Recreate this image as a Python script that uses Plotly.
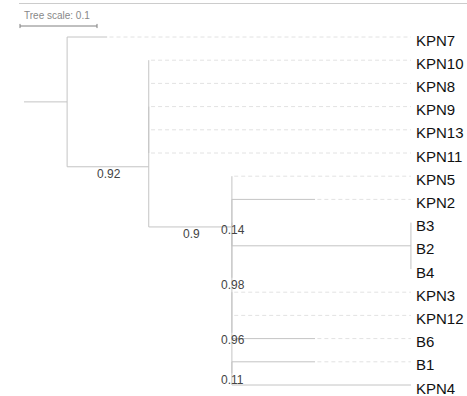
import plotly.graph_objects as go

# ---- data ----
leaf_names = ["KPN7", "KPN10", "KPN8", "KPN9", "KPN13", "KPN11", "KPN5", "KPN2",
              "B3", "B2", "B4", "KPN3", "KPN12", "B6", "B1", "KPN4"]
node_ids = ["root", "N1", "KPN7", "N2", "A", "KPN10", "KPN8", "KPN9", "KPN13", "KPN11",
            "N3", "KPN5", "N98", "N14", "KPN2", "BC", "B3", "B2", "B4",
            "N96", "KPN3", "KPN12", "B6", "N11", "B1", "KPN4"]
parent_ids = [None, "root", "N1", "N1", "N2", "A", "A", "A", "A", "A",
              "N2", "N3", "N3", "N98", "N14", "N14", "BC", "BC", "BC",
              "N98", "N96", "N96", "N96", "N96", "N11", "N11"]
branch_lengths = [0.0, 0.056, 0.052, 0.106, 0.0, 0.0, 0.0, 0.0, 0.0, 0.0,
                  0.108, 0.0, 0.0, 0.0, 0.108, 0.2325, 0.0, 0.0, 0.0,
                  0.0, 0.0, 0.0, 0.108, 0.0, 0.108, 0.2325]
support_nodes = ["N2", "N3", "N14", "N98", "N96", "N11"]
support_values = ["0.92", "0.9", "0.14", "0.98", "0.96", "0.11"]
scale_length = 0.1
scale_label = "Tree scale: 0.1"

# ---- tree layout ----
children = {n: [] for n in node_ids}
parent = dict(zip(node_ids, parent_ids))
blen = dict(zip(node_ids, branch_lengths))
for n, p in zip(node_ids, parent_ids):
    if p is not None:
        children[p].append(n)

xpos, ypos = {}, {}
leaf_idx = {name: i for i, name in enumerate(leaf_names)}


def set_x(n, x0):
    xpos[n] = x0 + blen[n]
    for c in children[n]:
        set_x(c, xpos[n])


def set_y(n):
    if not children[n]:
        ypos[n] = leaf_idx[n]
    else:
        for c in children[n]:
            set_y(c)
        kids = children[n]
        ypos[n] = (ypos[kids[0]] + ypos[kids[-1]]) / 2


set_x("root", 0.0)
set_y("root")
xmax = max(xpos[l] for l in leaf_names)

solid_x, solid_y, dash_x, dash_y = [], [], [], []
for n in node_ids:
    p = parent[n]
    if p is not None and xpos[n] > xpos[p]:
        solid_x += [xpos[p], xpos[n], None]
        solid_y += [ypos[n], ypos[n], None]
    if children[n] and n != "root":
        kids = children[n]
        solid_x += [xpos[n], xpos[n], None]
        solid_y += [ypos[kids[0]], ypos[kids[-1]], None]
for l in leaf_names:
    if xpos[l] < xmax - 1e-9:
        dash_x += [xpos[l] + 0.003, xmax, None]
        dash_y += [ypos[l], ypos[l], None]

W, H = 467, 396
px_per_unit = 770.0
x_origin_px = 24.0
y_top_px, row_px = 37.0, 23.2

fig = go.Figure()
fig.add_trace(go.Scatter(x=dash_x, y=dash_y, mode="lines",
                         line=dict(color="#e2e2e2", width=1, dash="4px,3px"),
                         hoverinfo="skip", showlegend=False))
fig.add_trace(go.Scatter(x=solid_x, y=solid_y, mode="lines",
                         line=dict(color="#c4c4c4", width=1),
                         hoverinfo="skip", showlegend=False))

annotations = []
for l in leaf_names:
    annotations.append(dict(x=xmax, y=ypos[l], text=l, showarrow=False,
                            xanchor="left", yanchor="middle", xshift=3, yshift=-3,
                            font=dict(family="Liberation Sans, Arial", size=15, color="#111111")))
for n, s in zip(support_nodes, support_values):
    xm = (xpos[parent[n]] + xpos[n]) / 2
    annotations.append(dict(x=xm, y=ypos[n], text=s, showarrow=False,
                            xanchor="center", yanchor="middle", yshift=-7, xshift=1,
                            font=dict(family="Liberation Sans, Arial", size=12, color="#444444")))

# tree scale
sx0 = (20 - x_origin_px) / px_per_unit
sy = -(37 - 26) / row_px
annotations.append(dict(x=sx0, y=sy, text=scale_label, showarrow=False,
                        xanchor="left", yanchor="bottom", xshift=2, yshift=3,
                        font=dict(family="Liberation Sans, Arial", size=10, color="#888888")))

shapes = [
    dict(type="line", x0=sx0, x1=sx0 + scale_length, y0=sy, y1=sy,
         line=dict(color="#808080", width=1)),
    dict(type="line", x0=sx0, x1=sx0, y0=sy - 0.09, y1=sy + 0.09,
         line=dict(color="#808080", width=1)),
    dict(type="line", x0=sx0 + scale_length, x1=sx0 + scale_length, y0=sy - 0.09, y1=sy + 0.09,
         line=dict(color="#808080", width=1)),
    dict(type="line", xref="paper", yref="paper", x0=19 / W, x1=1, y0=1 - 3.5 / H, y1=1 - 3.5 / H,
         line=dict(color="#cccccc", width=1)),
]

fig.update_layout(
    width=W, height=H, margin=dict(l=0, r=0, t=0, b=0),
    paper_bgcolor="white", plot_bgcolor="white",
    xaxis=dict(range=[-x_origin_px / px_per_unit, (W - x_origin_px) / px_per_unit],
               visible=False, fixedrange=True),
    yaxis=dict(range=[(H - y_top_px) / row_px, -y_top_px / row_px],
               visible=False, fixedrange=True),
    annotations=annotations, shapes=shapes, showlegend=False,
)
fig.write_html("out.html")
